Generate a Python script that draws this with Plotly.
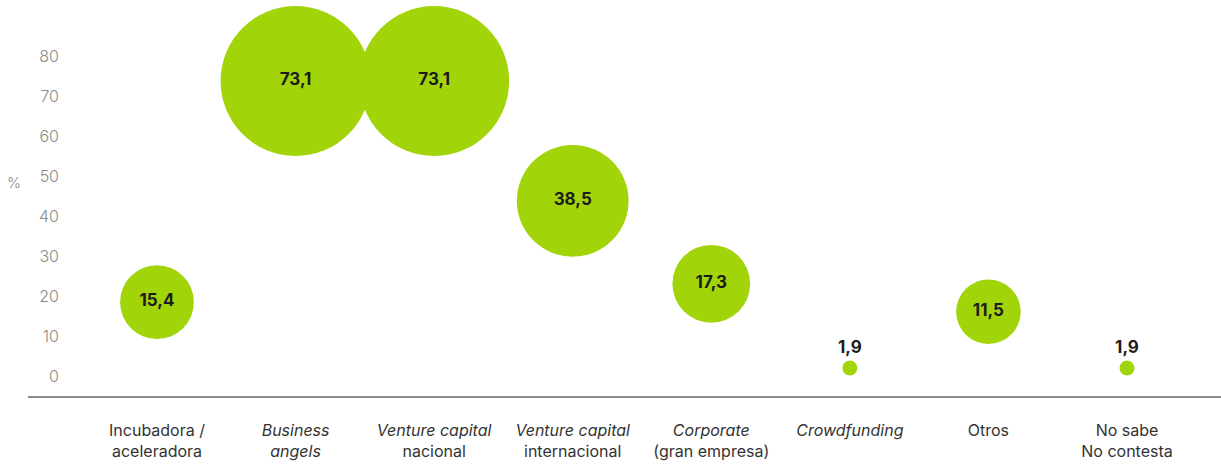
import plotly.graph_objects as go

# Categories (tick text uses <i> for the English terms)
categories = [
    "Incubadora /<br>aceleradora",
    "<i>Business</i><br><i>angels</i>",
    "<i>Venture capital</i><br>nacional",
    "<i>Venture capital</i><br>internacional",
    "<i>Corporate</i><br>(gran empresa)",
    "<i>Crowdfunding</i>",
    "Otros",
    "No sabe<br>No contesta",
]
values = [15.4, 73.1, 73.1, 38.5, 17.3, 1.9, 11.5, 1.9]
y_positions = [18.5, 73.9, 73.9, 43.9, 23.1, 2.0, 16.1, 2.0]
y_ticks = [0, 10, 20, 30, 40, 50, 60, 70, 80]

GREEN = "#a2d40a"
FONT = "Inter"

# bubble diameter: area-style scaling between min and max size
d_min, d_max = 15, 150
v_min, v_max = min(values), max(values)
sizes = [d_min + ((v - v_min) / (v_max - v_min)) ** 0.5 * (d_max - d_min) for v in values]

labels = [f"{v:.1f}".replace(".", ",") for v in values]
text_pos = ["top center" if v < 5 else "middle center" for v in values]

x_idx = list(range(len(categories)))

fig = go.Figure()
fig.add_trace(go.Scatter(
    x=x_idx,
    y=y_positions,
    mode="markers+text",
    marker=dict(size=sizes, sizemode="diameter", color=GREEN, opacity=1, line=dict(width=0)),
    text=labels,
    textposition=text_pos,
    textfont=dict(family=FONT, size=17, color="#1c1c1c", weight=700),
    cliponaxis=False,
    hoverinfo="skip",
    showlegend=False,
))

W, H = 1221, 466
L, R, T, B = 62, 0, 0, 69
px_step = 138.57
x0_px = 157
plot_w = W - L - R
x_lo = (L - x0_px) / px_step
x_hi = (W - R - x0_px) / px_step

fig.update_layout(
    width=W, height=H,
    margin=dict(l=L, r=R, t=T, b=B),
    paper_bgcolor="white",
    plot_bgcolor="white",
    font=dict(family=FONT),
    xaxis=dict(
        range=[x_lo, x_hi],
        tickmode="array",
        tickvals=x_idx,
        ticktext=categories,
        showgrid=False, zeroline=False, showline=False,
        ticks="",
        tickfont=dict(family=FONT, size=16, color="#333333"),
        ticklabelstandoff=22,
    ),
    yaxis=dict(
        range=[-5.26, 94.2],
        tickmode="array",
        tickvals=y_ticks,
        showgrid=False, zeroline=False, showline=False,
        ticks="",
        tickfont=dict(family=FONT, size=16, color="#8a8a8a", weight=300),
        ticklabelstandoff=2,
    ),
    shapes=[dict(
        type="line", xref="paper", yref="paper",
        x0=(28 - L) / plot_w, x1=1, y0=0, y1=0,
        line=dict(color="#8c8c8c", width=2),
    )],
    annotations=[dict(
        text="%", xref="paper", yref="y",
        x=(14 - L) / plot_w, y=48.4,
        showarrow=False, xanchor="center", yanchor="middle",
        font=dict(family=FONT, size=15, color="#8a8a8a", weight=300),
    )],
)

fig.write_html("out.html")
